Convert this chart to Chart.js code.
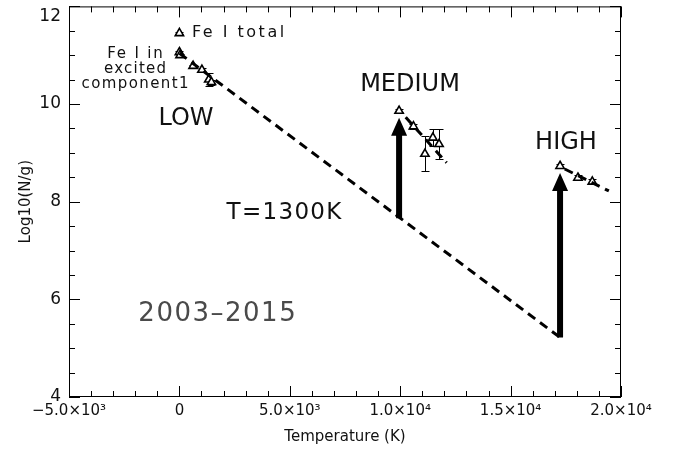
<!DOCTYPE html>
<html><head><meta charset="utf-8">
<script src="https://cdn.jsdelivr.net/npm/chart.js@4.4.0/dist/chart.umd.min.js"></script>
<style>html,body{margin:0;padding:0;background:#fff}#wrap{width:676px;height:450px}</style>
</head><body><div id="wrap"><canvas id="c" width="676" height="450"></canvas></div>
<script>
// ---- data ----
const xTickValues = [-5000, 0, 5000, 10000, 15000, 20000];
const xTickLabels = ['−5.0×10³', '0', '5.0×10³', '1.0×10⁴', '1.5×10⁴', '2.0×10⁴'];
const yTickValues = [4, 6, 8, 10, 12];
const yTickLabels = ['4', '6', '8', '10', '12'];
const xMinorStep = 1000;
const yMinorStep = 0.5;

const totalT = [0];
const totalLog = [11.45];
const totalErr = [0.02];

const lowT = [0, 30, 620, 1020, 1330, 1450];
const lowLog = [11.06, 11.0, 10.78, 10.70, 10.50, 10.45];
const lowErr = [0.03, 0.03, 0.03, 0.03, 0.14, 0.05];

const medT = [9950, 10600, 11120, 11480, 11760];
const medLog = [9.86, 9.54, 8.98, 9.31, 9.18];
const medErr = [0.03, 0.05, 0.36, 0.17, 0.30];

const highT = [17240, 18050, 18700];
const highLog = [8.73, 8.49, 8.41];
const highErr = [0.04, 0.05, 0.05];

const mainLineT = [0, 17240];
const mainLineLog = [11.04, 5.22];
const medLineT = [10250, 12100];
const medLineLog = [9.73, 8.80];
const highLineT = [17450, 19450];
const highLineLog = [8.67, 8.22];

const arrowT = [9950, 17240];
const arrowFrom = [7.66, 5.22];
const arrowTo = [9.72, 8.59];

const labelText = ['Fe I total', 'Fe I in', 'excited', 'component1', 'LOW', 'MEDIUM', 'HIGH', 'T=1300K', '2003–2015'];
const labelT    = [570, -2011, -2011, -2011, 299, 10444, 17509, 4737, 1703];
const labelLog  = [11.45, 11.02, 10.71, 10.41, 9.69, 10.39, 9.20, 7.776, 5.69];

// ---- helpers ----
const pts = (xs, ys) => xs.map((x, i) => ({x: x, y: ys[i]}));
const FONT = "'DejaVu Sans', 'Liberation Sans', sans-serif";
const labelStyle = [
  {size: 16, ls: 2.5, align: 'left', color: '#111'},
  {size: 15, ls: 1.8, align: 'center', color: '#111'},
  {size: 15, ls: 1.2, align: 'center', color: '#111'},
  {size: 15, ls: 1.4, align: 'center', color: '#111'},
  {size: 24, ls: 0, align: 'center', color: '#111'},
  {size: 24, ls: 0, align: 'center', color: '#111'},
  {size: 24, ls: 0, align: 'center', color: '#111'},
  {size: 23, ls: 1.3, align: 'center', color: '#111'},
  {size: 26, ls: 1.5, align: 'center', color: '#4a4a4a'}
];

const pointSet = (xs, ys) => ({
  data: pts(xs, ys), showLine: false, pointStyle: 'triangle', pointRadius: 4.8,
  pointBorderWidth: 1.6, pointBorderColor: '#000', pointBackgroundColor: '#fff'
});
const dashSet = (xs, ys) => ({
  data: pts(xs, ys), showLine: true, pointRadius: 0, borderColor: '#000',
  borderWidth: 3, borderDash: [9, 6]
});

const overlay = {
  id: 'overlay',
  beforeDatasetsDraw(chart) {
    const ctx = chart.ctx, xs = chart.scales.x, ys = chart.scales.y;
    ctx.save();
    // error bars
    ctx.strokeStyle = '#000'; ctx.lineWidth = 1;
    const groups = [[totalT, totalLog, totalErr], [lowT, lowLog, lowErr], [medT, medLog, medErr], [highT, highLog, highErr]];
    groups.forEach(([T, L, E]) => {
      T.forEach((t, i) => {
        const px = Math.round(xs.getPixelForValue(t)) + 0.5;
        const y1 = Math.round(ys.getPixelForValue(L[i] + E[i])) + 0.5;
        const y2 = Math.round(ys.getPixelForValue(L[i] - E[i])) + 0.5;
        ctx.beginPath();
        ctx.moveTo(px, y1); ctx.lineTo(px, y2);
        ctx.moveTo(px - 4, y1); ctx.lineTo(px + 4, y1);
        ctx.moveTo(px - 4, y2); ctx.lineTo(px + 4, y2);
        ctx.stroke();
      });
    });
    // arrows
    ctx.fillStyle = '#000';
    arrowT.forEach((t, i) => {
      const px = xs.getPixelForValue(t);
      const yb = ys.getPixelForValue(arrowFrom[i]);
      const yt = ys.getPixelForValue(arrowTo[i]);
      const headL = 18, headW = 8, shaft = 3;
      ctx.beginPath();
      ctx.moveTo(px - shaft, yb);
      ctx.lineTo(px - shaft, yt + headL);
      ctx.lineTo(px - headW, yt + headL);
      ctx.lineTo(px, yt);
      ctx.lineTo(px + headW, yt + headL);
      ctx.lineTo(px + shaft, yt + headL);
      ctx.lineTo(px + shaft, yb);
      ctx.closePath();
      ctx.fill();
    });
    ctx.restore();
  },
  afterDraw(chart) {
    const ctx = chart.ctx, xs = chart.scales.x, ys = chart.scales.y, a = chart.chartArea;
    ctx.save();
    ctx.strokeStyle = '#000'; ctx.lineWidth = 1;
    ctx.strokeRect(a.left + 0.5, a.top + 0.5, a.right - a.left - 1, a.bottom - a.top - 1);
    ctx.beginPath();
    const xmin = xTickValues[0], xmax = xTickValues[xTickValues.length - 1];
    for (let v = xmin; v <= xmax + 1e-6; v += xMinorStep) {
      const major = xTickValues.some(m => Math.abs(m - v) < 1e-6);
      const len = major ? 11 : 6;
      const px = Math.round(xs.getPixelForValue(v)) + 0.5;
      ctx.moveTo(px, a.bottom); ctx.lineTo(px, a.bottom - len);
      ctx.moveTo(px, a.top); ctx.lineTo(px, a.top + len);
    }
    const ymin = yTickValues[0], ymax = yTickValues[yTickValues.length - 1];
    for (let v = ymin; v <= ymax + 1e-6; v += yMinorStep) {
      const major = yTickValues.some(m => Math.abs(m - v) < 1e-6);
      const len = major ? 11 : 6;
      const py = Math.round(ys.getPixelForValue(v)) + 0.5;
      ctx.moveTo(a.left, py); ctx.lineTo(a.left + len, py);
      ctx.moveTo(a.right, py); ctx.lineTo(a.right - len, py);
    }
    ctx.stroke();
    // tick labels
    ctx.fillStyle = '#111';
    ctx.font = '15px ' + FONT;
    ctx.textAlign = 'center'; ctx.textBaseline = 'middle';
    xTickValues.forEach((v, i) => {
      ctx.fillText(xTickLabels[i], xs.getPixelForValue(v), a.bottom + 14);
    });
    ctx.font = '17px ' + FONT;
    ctx.textAlign = 'right';
    yTickValues.forEach((v, i) => {
      const py = Math.max(ys.getPixelForValue(v), a.top + 10);
      ctx.fillText(yTickLabels[i], a.left - 8, py);
    });
    // annotations
    labelText.forEach((txt, i) => {
      const st = labelStyle[i];
      ctx.font = st.size + 'px ' + FONT;
      ctx.letterSpacing = st.ls + 'px';
      ctx.fillStyle = st.color;
      ctx.textAlign = st.align;
      ctx.textBaseline = 'middle';
      let px = xs.getPixelForValue(labelT[i]);
      if (st.align === 'center') px += st.ls / 2;
      ctx.fillText(txt, px, ys.getPixelForValue(labelLog[i]));
    });
    ctx.letterSpacing = '0px';
    ctx.restore();
  }
};

new Chart(document.getElementById('c'), {
  type: 'scatter',
  data: {
    datasets: [
      dashSet(mainLineT, mainLineLog),
      dashSet(medLineT, medLineLog),
      dashSet(highLineT, highLineLog),
      pointSet(totalT, totalLog),
      pointSet(lowT, lowLog),
      pointSet(medT, medLog),
      pointSet(highT, highLog)
    ]
  },
  options: {
    responsive: false,
    animation: false,
    devicePixelRatio: 1,
    layout: {padding: {top: 5, right: 55, left: 0, bottom: 0}},
    plugins: {legend: {display: false}, tooltip: {enabled: false}},
    scales: {
      x: {
        type: 'linear', min: -5000, max: 20000,
        grid: {display: false}, border: {display: false},
        ticks: {display: false},
        title: {display: true, text: 'Temperature (K)', color: '#111', font: {family: FONT, size: 15}, padding: {top: 0, bottom: 4}},
        afterFit(s) { s.height = 53; s.paddingLeft = 0; s.paddingRight = 0; }
      },
      y: {
        type: 'linear', min: 4, max: 12,
        grid: {display: false}, border: {display: false},
        ticks: {display: false},
        title: {display: true, text: 'Log10(N/g)', color: '#111', font: {family: FONT, size: 15}, padding: {top: 17, bottom: 0}},
        afterFit(s) { s.width = 69; s.paddingTop = 0; s.paddingBottom = 0; }
      }
    }
  },
  plugins: [overlay]
});
</script>
</body></html>
